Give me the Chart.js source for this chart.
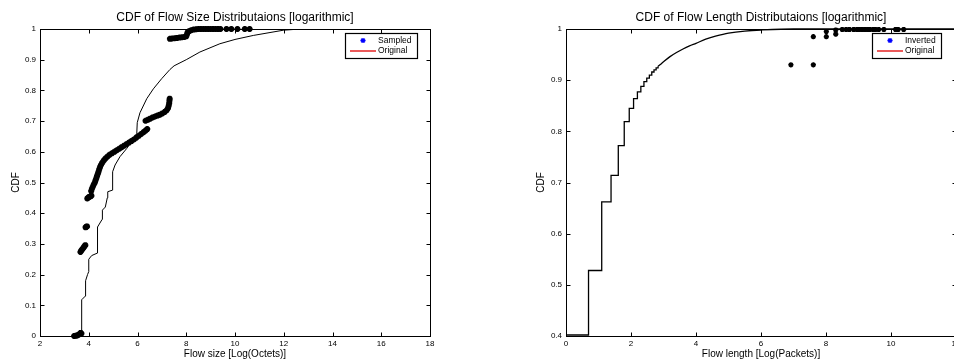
<!DOCTYPE html>
<html lang="en">
<head>
    <meta charset="UTF-8">
    <title>CDF of Flow Size / Flow Length</title>
    <script src="https://cdn.jsdelivr.net/npm/chart.js"></script>
    <style>
        html, body {
            margin: 0;
            padding: 0;
            background: #ffffff;
        }
        #wrap {
            position: relative;
            width: 954px;
            height: 363px;
            overflow: hidden;
            background: #ffffff;
        }
        #wrap canvas {
            position: absolute;
            top: 0;
        }
    </style>
</head>
<body>
<div id="wrap">
    <canvas id="sizeChart" width="480" height="363" style="left:0"></canvas>
    <canvas id="lengthChart" width="490" height="363" style="left:480px"></canvas>
</div>

<script>
    // ---- data ----
    // flow size plot: [log(octets), CDF]
    const sizeOriginal = [
        [3.40, 0], [3.71, 0], [3.71, 0.118], [3.86, 0.13], [3.87, 0.18], [3.95, 0.2], [4.0, 0.21],
        [4.0, 0.25], [4.12, 0.262], [4.35, 0.27], [4.36, 0.355], [4.55, 0.38], [4.56, 0.41],
        [4.68, 0.42], [4.76, 0.45], [4.78, 0.47], [4.97, 0.475], [4.98, 0.535], [5.08, 0.557],
        [5.28, 0.584], [5.56, 0.611], [5.80, 0.64], [5.97, 0.66], [5.99, 0.695], [6.10, 0.727],
        [6.38, 0.773], [6.65, 0.805], [6.99, 0.838], [7.33, 0.868], [7.50, 0.88], [8.0, 0.9],
        [8.56, 0.925], [9.38, 0.952], [10.0, 0.966], [10.75, 0.979], [11.98, 0.996], [12.67, 1.0],
        [14.0, 1.0]
    ];
    const sizeSampled = [
        [3.40, 0.000], [3.47, 0.001], [3.53, 0.002], [3.58, 0.004], [3.63, 0.007], [3.67, 0.010], [3.70, 0.008],
        [3.66, 0.274], [3.70, 0.279], [3.74, 0.283], [3.78, 0.287], [3.82, 0.292], [3.86, 0.296],
        [3.87, 0.354], [3.90, 0.356], [3.93, 0.357],
        [3.94, 0.448], [3.98, 0.451], [4.02, 0.453], [4.07, 0.455], [4.11, 0.457],
        [4.10, 0.472], [4.13, 0.480], [4.17, 0.487], [4.21, 0.494], [4.25, 0.500], [4.28, 0.507],
        [4.31, 0.514], [4.34, 0.521], [4.37, 0.528], [4.40, 0.535], [4.43, 0.543], [4.46, 0.550],
        [4.50, 0.557], [4.55, 0.564], [4.61, 0.571], [4.68, 0.578], [4.76, 0.584], [4.85, 0.590],
        [4.95, 0.595], [5.05, 0.600], [5.15, 0.605], [5.25, 0.610], [5.35, 0.615], [5.45, 0.620],
        [5.55, 0.625], [5.65, 0.630], [5.75, 0.635], [5.85, 0.640], [5.95, 0.646], [6.05, 0.652],
        [6.15, 0.658], [6.25, 0.664], [6.33, 0.669], [6.40, 0.674],
        [6.33, 0.701], [6.42, 0.704], [6.52, 0.708], [6.62, 0.712], [6.72, 0.715], [6.82, 0.718],
        [6.92, 0.721], [7.02, 0.725], [7.12, 0.730], [7.20, 0.736], [7.25, 0.742], [7.28, 0.750],
        [7.30, 0.758], [7.31, 0.766], [7.32, 0.773],
        [7.33, 0.968], [7.42, 0.969], [7.52, 0.970], [7.62, 0.971], [7.72, 0.972], [7.82, 0.973],
        [7.92, 0.974], [8.00, 0.976], [8.03, 0.983], [8.06, 0.990], [8.12, 0.993], [8.20, 0.996],
        [8.30, 0.998], [8.40, 0.999], [8.50, 1.0], [8.60, 1.0], [8.70, 1.0], [8.80, 1.0],
        [8.90, 1.0], [9.00, 1.0], [9.10, 1.0], [9.20, 1.0], [9.30, 1.0], [9.40, 1.0],
        [9.65, 1.0], [9.85, 1.0], [10.1, 1.0], [10.4, 1.0], [10.6, 1.0]
    ];
    const sizeXTicks = [2, 4, 6, 8, 10, 12, 14, 16, 18];
    const sizeYTicks = [0, 0.1, 0.2, 0.3, 0.4, 0.5, 0.6, 0.7, 0.8, 0.9, 1];

    // flow length plot: [log(packets), CDF]
    // staircase part (one step per packet count) ...
    const lengthOriginalSteps = [
        [0, 0.402], [0.693, 0.528], [1.099, 0.662], [1.386, 0.714], [1.609, 0.772], [1.792, 0.819],
        [1.946, 0.845], [2.079, 0.864], [2.197, 0.877], [2.303, 0.888], [2.398, 0.897], [2.485, 0.904],
        [2.565, 0.910], [2.639, 0.916], [2.708, 0.920], [2.773, 0.924], [2.833, 0.927]
    ];
    // ... and the smooth tail after it
    const lengthOriginalTail = [
        [2.833, 0.927], [2.89, 0.930], [3.0, 0.936], [3.2, 0.946], [3.4, 0.954], [3.6, 0.961],
        [3.8, 0.967], [4.0, 0.972], [4.3, 0.980], [4.6, 0.986], [5.0, 0.992], [5.5, 0.996],
        [6.0, 0.998], [7.0, 1.0], [12, 1.0]
    ];
    const lengthInverted = [
        [6.92, 0.93], [7.61, 0.93], [7.61, 0.985], [8.01, 0.985], [8.01, 0.995], [8.30, 0.99],
        [8.30, 0.998], [8.50, 0.999], [8.62, 0.999], [8.72, 0.999], [8.85, 0.999], [8.95, 0.999],
        [9.03, 0.999], [9.12, 0.999], [9.20, 0.999], [9.28, 0.999], [9.35, 0.999], [9.45, 0.999],
        [9.52, 0.999], [9.62, 0.999], [9.78, 0.999], [10.14, 0.999], [10.22, 0.999], [10.39, 0.999]
    ];
    const lengthXTicks = [0, 2, 4, 6, 8, 10, 12];
    const lengthYTicks = [0.4, 0.5, 0.6, 0.7, 0.8, 0.9, 1];

    const FONT = '"Liberation Sans", Arial, Helvetica, sans-serif';
    const toPts = arr => arr.map(p => ({x: p[0], y: p[1]}));

    // MATLAB style box with inward ticks on all four sides
    const framePlugin = {
        id: 'frame',
        afterDraw(chart) {
            const {ctx, chartArea: a, scales} = chart;
            const L = Math.round(a.left) + 0.5, R = Math.round(a.right) + 0.5;
            const T = Math.round(a.top) + 0.5, B = Math.round(a.bottom) + 0.5;
            ctx.save();
            ctx.strokeStyle = '#000';
            ctx.lineWidth = 1;
            ctx.beginPath();
            scales.x.ticks.forEach(t => {
                const px = Math.round(scales.x.getPixelForValue(t.value)) + 0.5;
                ctx.moveTo(px, B); ctx.lineTo(px, B - 4);
                ctx.moveTo(px, T); ctx.lineTo(px, T + 4);
            });
            scales.y.ticks.forEach(t => {
                const py = Math.round(scales.y.getPixelForValue(t.value)) + 0.5;
                ctx.moveTo(L, py); ctx.lineTo(L + 4, py);
                ctx.moveTo(R, py); ctx.lineTo(R - 4, py);
            });
            ctx.stroke();
            ctx.strokeRect(L, T, R - L, B - T);
            ctx.restore();
        }
    };

    // legend box in the top right corner, like the original figure
    const boxLegend = {
        id: 'boxLegend',
        afterDraw(chart, args, opts) {
            const {ctx, chartArea: a} = chart;
            ctx.save();
            ctx.font = '8.5px ' + FONT;
            const textW = Math.max(...opts.labels.map(t => ctx.measureText(t).width));
            const w = Math.round(33 + textW + 5), h = 25;
            const left = Math.round(a.right - opts.right - w), top = Math.round(a.top + 4);
            ctx.fillStyle = '#fff';
            ctx.fillRect(left, top, w, h);
            ctx.strokeStyle = '#000';
            ctx.lineWidth = 1.2;
            ctx.strokeRect(left + 0.5, top + 0.5, w, h);

            const r1 = top + 7.5, r2 = top + 18, mx = left + 18;
            // blue asterisk
            ctx.strokeStyle = '#0000ff';
            ctx.lineWidth = 1.3;
            ctx.beginPath();
            for (let k = 0; k < 4; k++) {
                const ang = k * Math.PI / 4;
                ctx.moveTo(mx - 2.6 * Math.cos(ang), r1 - 2.6 * Math.sin(ang));
                ctx.lineTo(mx + 2.6 * Math.cos(ang), r1 + 2.6 * Math.sin(ang));
            }
            ctx.stroke();
            // red line
            ctx.strokeStyle = '#e00000';
            ctx.lineWidth = 1.3;
            ctx.beginPath();
            ctx.moveTo(left + 5, r2);
            ctx.lineTo(left + 31, r2);
            ctx.stroke();

            ctx.fillStyle = '#000';
            ctx.textBaseline = 'middle';
            ctx.textAlign = 'left';
            ctx.fillText(opts.labels[0], left + 33, r1);
            ctx.fillText(opts.labels[1], left + 33, r2);
            ctx.restore();
        }
    };

    const fmtTick = v => String(Math.round(v * 10) / 10);

    function makeChart(id, cfg) {
        const ctx = document.getElementById(id).getContext('2d');
        return new Chart(ctx, {
            type: 'scatter',
            data: {datasets: cfg.datasets},
            options: {
                responsive: false,
                animation: false,
                events: [],
                layout: {padding: cfg.padding},
                scales: {
                    x: {
                        type: 'linear',
                        min: cfg.xMin,
                        max: cfg.xMax,
                        afterBuildTicks: s => { s.ticks = cfg.xTicks.map(v => ({value: v})); },
                        afterFit: s => { s.height = 27; },
                        grid: {display: false, drawTicks: false},
                        border: {display: false},
                        ticks: {color: '#000', font: {family: FONT, size: 8}, padding: 3, maxRotation: 0, autoSkip: false, callback: fmtTick},
                        title: {display: true, text: cfg.xTitle, color: '#000', font: {family: FONT, size: 10}, padding: {top: 0, bottom: 3}}
                    },
                    y: {
                        type: 'linear',
                        min: cfg.yMin,
                        max: cfg.yMax,
                        afterBuildTicks: s => { s.ticks = cfg.yTicks.map(v => ({value: v})); },
                        afterFit: s => { s.width = cfg.yWidth; },
                        grid: {display: false, drawTicks: false},
                        border: {display: false},
                        ticks: {color: '#000', font: {family: FONT, size: 8}, padding: 4, autoSkip: false, callback: fmtTick},
                        title: {display: true, text: 'CDF', color: '#000', font: {family: FONT, size: 10}, padding: {top: cfg.yTitlePad, bottom: 0}}
                    }
                },
                plugins: {
                    legend: {display: false},
                    tooltip: {enabled: false},
                    title: {
                        display: true,
                        text: cfg.title,
                        color: '#000',
                        fullSize: false,
                        font: {family: FONT, size: 12, weight: 'normal'},
                        padding: {top: 10, bottom: 4.6}
                    },
                    boxLegend: {labels: cfg.legend, right: cfg.legendRight}
                }
            },
            plugins: [framePlugin, boxLegend]
        });
    }

    makeChart('sizeChart', {
        title: 'CDF of Flow Size Distributaions [logarithmic]',
        xTitle: 'Flow size [Log(Octets)]',
        xMin: 2, xMax: 18, yMin: 0, yMax: 1,
        xTicks: sizeXTicks, yTicks: sizeYTicks,
        padding: {left: 0, right: 50, top: 0, bottom: 0},
        yWidth: 40, yTitlePad: 10,
        legend: ['Sampled', 'Original'], legendRight: 13,
        datasets: [
            {
                label: 'Sampled',
                data: toPts(sizeSampled),
                pointStyle: 'star',
                pointRadius: 3,
                pointBorderWidth: 2,
                borderColor: '#000',
                backgroundColor: '#000',
                showLine: false,
                clip: false
            },
            {
                label: 'Original',
                data: toPts(sizeOriginal),
                showLine: true,
                pointRadius: 0,
                borderColor: '#000',
                borderWidth: 1,
                tension: 0
            }
        ]
    });

    makeChart('lengthChart', {
        title: 'CDF of Flow Length Distributaions [logarithmic]',
        xTitle: 'Flow length [Log(Packets)]',
        xMin: 0, xMax: 12, yMin: 0.4, yMax: 1,
        xTicks: lengthXTicks, yTicks: lengthYTicks,
        padding: {left: 50, right: 14, top: 0, bottom: 0},
        yWidth: 36, yTitlePad: 5.7,
        legend: ['Inverted', 'Original'], legendRight: 15,
        datasets: [
            {
                label: 'Inverted',
                data: toPts(lengthInverted),
                pointStyle: 'star',
                pointRadius: 2.6,
                pointBorderWidth: 1.6,
                borderColor: '#000',
                backgroundColor: '#000',
                showLine: false,
                clip: false
            },
            {
                label: 'Original',
                data: toPts(lengthOriginalSteps),
                showLine: true,
                stepped: true,
                pointRadius: 0,
                borderColor: '#000',
                borderWidth: 1.3,
                clip: false
            },
            {
                label: 'Original',
                data: toPts(lengthOriginalTail),
                showLine: true,
                pointRadius: 0,
                borderColor: '#000',
                borderWidth: 1.3,
                tension: 0.3,
                clip: false
            }
        ]
    });
</script>
</body>
</html>
